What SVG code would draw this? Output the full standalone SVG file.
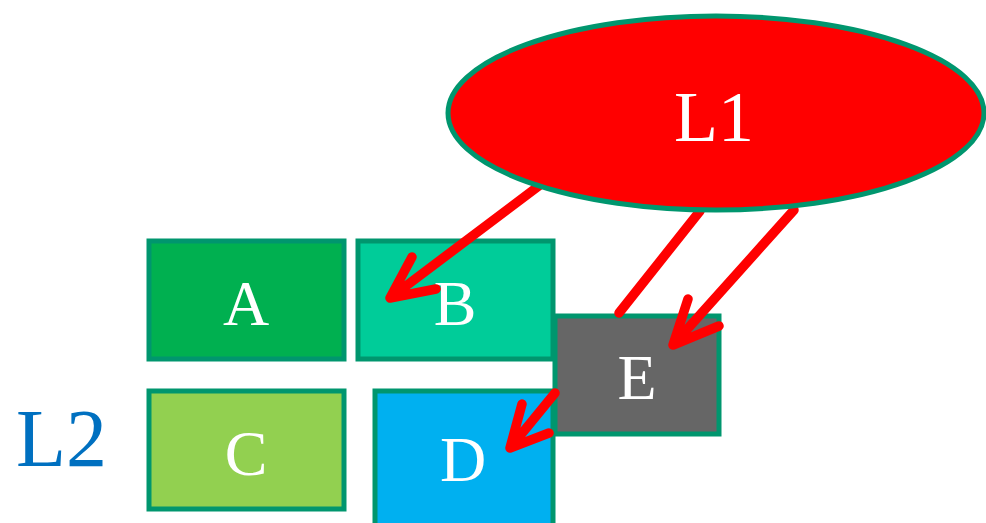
<svg xmlns="http://www.w3.org/2000/svg" width="986" height="523" viewBox="0 0 986 523">
<style>
.box{stroke:#00966E;stroke-width:5}
.lbl{font-family:'Liberation Serif',serif;fill:#fff;text-anchor:middle}
.con{fill:none;stroke:#FF0000;stroke-width:9.5;stroke-linecap:round;stroke-linejoin:round}
</style>
<rect width="986" height="523" fill="#fff"/>
<g id="A"><rect class="box" x="149" y="241" width="195" height="118" fill="#00B050"/><text class="lbl" x="246" y="325" font-size="64">A</text></g>
<g id="B"><rect class="box" x="358" y="241" width="195" height="118" fill="#00CC99"/><text class="lbl" x="455" y="325" font-size="64">B</text></g>
<g id="C"><rect class="box" x="149" y="391" width="195" height="118" fill="#92D050"/><text class="lbl" x="246" y="475" font-size="64">C</text></g>
<g id="D"><rect class="box" x="375" y="391" width="178" height="140" fill="#00B0F0"/><text class="lbl" x="463" y="481" font-size="64">D</text></g>
<g id="E"><rect class="box" x="555" y="316" width="164" height="118" fill="#666666"/><text class="lbl" x="637" y="399" font-size="64">E</text></g>
<g id="connectors">
<path class="con" d="M540,185 L390,298 M412,257 L390,298 L436,289"/>
<path class="con" d="M700,211 L619,313 M555,393 L510,448 M522,404 L510,448 L549,433"/>
<path class="con" d="M794,210 L673,345 M688,299 L673,345 L719,326"/>
</g>
<g id="L1"><ellipse cx="716" cy="113" rx="268" ry="97" fill="#FF0000" stroke="#00966E" stroke-width="5"/><text class="lbl" x="714" y="141" font-size="72">L1</text></g>
<g id="L2"><text x="16" y="466" font-family="'Liberation Serif', serif" font-size="82" fill="#0070C0">L2</text></g>
</svg>
